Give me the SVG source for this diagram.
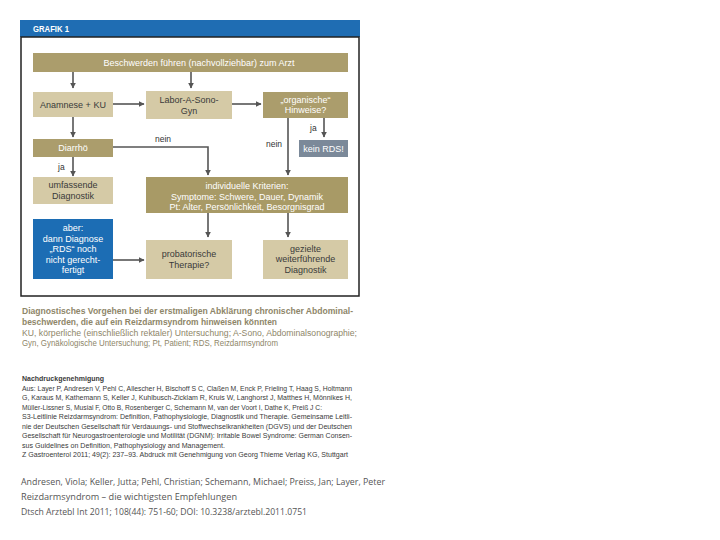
<svg xmlns="http://www.w3.org/2000/svg" width="720" height="540" viewBox="0 0 720 540">
<defs>
<marker id="ah" viewBox="0 0 10 10" refX="9" refY="5" markerWidth="6" markerHeight="6" orient="auto" markerUnits="userSpaceOnUse">
<path d="M0,0 L10,5 L0,10 Z" fill="#555"/>
</marker>
<style>
.dk{fill:#ab9d6c}
.lt{fill:#d5caa6}
.bt{font-family:"Liberation Sans",Arial,sans-serif;font-size:9px;text-anchor:middle}
.w{fill:#fff}
.d{fill:#3a3a3a}
.lbl{font-family:"Liberation Sans",Arial,sans-serif;font-size:8.5px;fill:#333}
.cn{stroke:#555;stroke-width:1.6;fill:none;marker-end:url(#ah)}
.cap{font-family:"Liberation Sans",Arial,sans-serif;font-size:8.5px;fill:#8e8669}
.capb{font-weight:bold}
.ref{font-family:"Liberation Sans",Arial,sans-serif;font-size:7.8px;fill:#3a3a3a}
.foot{font-family:"Open Sans","Liberation Sans",sans-serif;font-size:9px;fill:#555}
</style>
</defs>
<rect width="720" height="540" fill="#fff"/>
<rect x="20" y="20" width="340" height="17" fill="#1f6db3"/>
<text x="33" y="32" font-family="Liberation Sans,Arial,sans-serif" font-size="9.5px" font-weight="bold" fill="#fff" textLength="36" lengthAdjust="spacingAndGlyphs">GRAFIK 1</text>
<rect x="21" y="37" width="338" height="259" fill="none" stroke="#222" stroke-width="1.5"/>

<g id="connectors">
<path class="cn" d="M73,72 V88"/>
<path class="cn" d="M191,72 V88"/>
<path class="cn" d="M113,104 H144"/>
<path class="cn" d="M232,104 H261"/>
<path class="cn" d="M73,117 V137"/>
<path class="cn" d="M113,147 H208 V175"/>
<path class="cn" d="M73,157 V176"/>
<path class="cn" d="M324,118 V137"/>
<path class="cn" d="M288,118 V175"/>
<path class="cn" d="M208,213 V237"/>
<path class="cn" d="M288,213 V237"/>
<path class="cn" d="M113,260 H144"/>
<text class="lbl" x="155" y="142">nein</text>
<text class="lbl" x="58" y="170">ja</text>
<text class="lbl" x="310" y="131">ja</text>
<text class="lbl" x="266" y="147">nein</text>
</g>

<g id="n-beschwerden">
<rect class="dk" x="33" y="53" width="315" height="19"/>
<text class="bt w" x="199" y="65.5">Beschwerden führen (nachvollziehbar) zum Arzt</text>
</g>
<g id="n-anamnese">
<rect class="lt" x="33" y="92" width="80" height="25"/>
<text class="bt d" x="73" y="107.5">Anamnese + KU</text>
</g>
<g id="n-labor">
<rect class="lt" x="146" y="91" width="86" height="28"/>
<text class="bt d" x="189" y="102.5">Labor-A-Sono-</text>
<text class="bt d" x="189" y="113.5">Gyn</text>
</g>
<g id="n-organisch">
<rect class="dk" x="263" y="92" width="85" height="26"/>
<text class="bt w" x="305.5" y="102.5">„organische“</text>
<text class="bt w" x="305.5" y="113">Hinweise?</text>
</g>
<g id="n-diarrhoe">
<rect class="dk" x="33" y="139" width="80" height="18"/>
<text class="bt w" x="73" y="151">Diarrhö</text>
</g>
<g id="n-keinrds">
<rect x="299" y="140" width="49" height="17" fill="#7b8999"/>
<text class="bt w" x="323.5" y="151.5">kein RDS!</text>
</g>
<g id="n-umfassend">
<rect class="lt" x="33" y="177" width="80" height="27"/>
<text class="bt d" x="73" y="188">umfassende</text>
<text class="bt d" x="73" y="199">Diagnostik</text>
</g>
<g id="n-kriterien">
<rect x="146" y="177" width="202" height="36" fill="#a89a66"/>
<text class="bt w" x="247" y="189">individuelle Kriterien:</text>
<text class="bt w" x="247" y="199.5">Symptome: Schwere, Dauer, Dynamik</text>
<text class="bt w" x="247" y="210">Pt: Alter, Persönlichkeit, Besorgnisgrad</text>
</g>
<g id="n-aber">
<rect x="33" y="219" width="80" height="60" fill="#1c6db4"/>
<text class="bt w" x="73" y="231">aber:</text>
<text class="bt w" x="73" y="241.5">dann Diagnose</text>
<text class="bt w" x="73" y="252">„RDS“ noch</text>
<text class="bt w" x="73" y="262.5">nicht gerecht-</text>
<text class="bt w" x="73" y="273">fertigt</text>
</g>
<g id="n-probatorisch">
<rect class="lt" x="146" y="240" width="86" height="39"/>
<text class="bt d" x="189" y="257">probatorische</text>
<text class="bt d" x="189" y="268">Therapie?</text>
</g>
<g id="n-gezielt">
<rect class="lt" x="263" y="240" width="85" height="39"/>
<text class="bt d" x="305.5" y="251.5">gezielte</text>
<text class="bt d" x="305.5" y="262">weiterführende</text>
<text class="bt d" x="305.5" y="272.5">Diagnostik</text>
</g>

<g id="caption">
<text class="cap capb" x="22" y="314" textLength="331" lengthAdjust="spacingAndGlyphs">Diagnostisches Vorgehen bei der erstmaligen Abklärung chronischer Abdominal-</text>
<text class="cap capb" x="22" y="325" textLength="255" lengthAdjust="spacingAndGlyphs">beschwerden, die auf ein Reizdarmsyndrom hinweisen könnten</text>
<text class="cap" x="22" y="335.5" textLength="335" lengthAdjust="spacingAndGlyphs">KU, körperliche (einschließlich rektaler) Untersuchung; A-Sono, Abdominalsonographie;</text>
<text class="cap" x="22" y="345.5" textLength="256" lengthAdjust="spacingAndGlyphs">Gyn, Gynäkologische Untersuchung; Pt, Patient; RDS, Reizdarmsyndrom</text>
</g>

<g id="reprint">
<text class="ref" x="22" y="381" font-weight="bold" textLength="82" lengthAdjust="spacingAndGlyphs">Nachdruckgenehmigung</text>
<text class="ref" x="22" y="390.5" textLength="330" lengthAdjust="spacingAndGlyphs">Aus: Layer P, Andresen V, Pehl C, Allescher H, Bischoff S C, Claßen M, Enck P, Frieling T, Haag S, Holtmann</text>
<text class="ref" x="22" y="400" textLength="330" lengthAdjust="spacingAndGlyphs">G, Karaus M, Kathemann S, Keller J, Kuhlbusch-Zicklam R, Kruis W, Langhorst J, Matthes H, Mönnikes H,</text>
<text class="ref" x="22" y="409.5" textLength="300" lengthAdjust="spacingAndGlyphs">Müller-Lissner S, Musial F, Otto B, Rosenberger C, Schemann M, van der Voort I, Dathe K, Preiß J C:</text>
<text class="ref" x="22" y="419" textLength="330" lengthAdjust="spacingAndGlyphs">S3-Leitlinie Reizdarmsyndrom: Definition, Pathophysiologie, Diagnostik und Therapie. Gemeinsame Leitli-</text>
<text class="ref" x="22" y="428.5" textLength="330" lengthAdjust="spacingAndGlyphs">nie der Deutschen Gesellschaft für Verdauungs- und Stoffwechselkrankheiten (DGVS) und der Deutschen</text>
<text class="ref" x="22" y="438" textLength="330" lengthAdjust="spacingAndGlyphs">Gesellschaft für Neurogastroenterologie und Motilität (DGNM): Irritable Bowel Syndrome: German Consen-</text>
<text class="ref" x="22" y="447.5" textLength="203" lengthAdjust="spacingAndGlyphs">sus Guidelines on Definition, Pathophysiology and Management.</text>
<text class="ref" x="22" y="457" textLength="326" lengthAdjust="spacingAndGlyphs">Z Gastroenterol 2011; 49(2): 237–93. Abdruck mit Genehmigung von Georg Thieme Verlag KG, Stuttgart</text>
</g>

<g id="footer">
<text class="foot" x="21" y="485" textLength="364" lengthAdjust="spacingAndGlyphs">Andresen, Viola; Keller, Jutta; Pehl, Christian; Schemann, Michael; Preiss, Jan; Layer, Peter</text>
<text class="foot" x="21" y="499.5" textLength="216" lengthAdjust="spacingAndGlyphs">Reizdarmsyndrom – die wichtigsten Empfehlungen</text>
<text class="foot" x="21" y="514.5" textLength="286" lengthAdjust="spacingAndGlyphs">Dtsch Arztebl Int 2011; 108(44): 751-60; DOI: 10.3238/arztebl.2011.0751</text>
</g>
</svg>
